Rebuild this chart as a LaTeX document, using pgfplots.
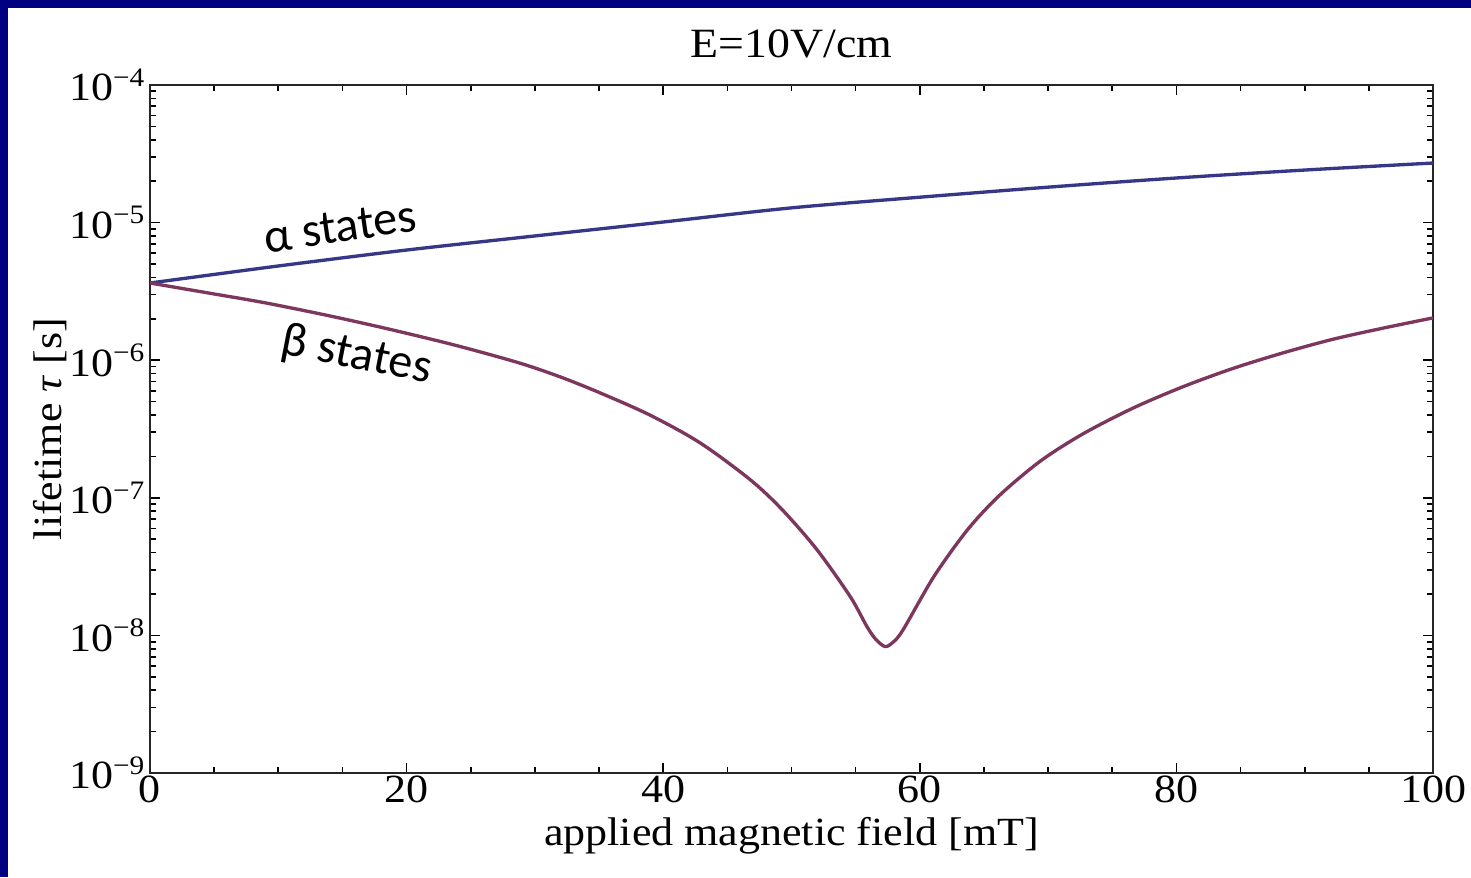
\documentclass[border=0pt]{standalone}
\usepackage{fontspec}
\setmainfont{Liberation Serif}[FakeStretch=1.1]
\newfontfamily\carlito{Carlito}
\usepackage{pgfplots}
\pgfplotsset{compat=1.18}
\definecolor{slidenavy}{RGB}{0,0,128}
\definecolor{alphablue}{RGB}{55,55,135}
\definecolor{betared}{RGB}{125,55,95}

\begin{document}
\begin{tikzpicture}[x=1pt,y=1pt]
% slide background
\fill[slidenavy] (0,0) rectangle (441.3,263.1);
\fill[white] (2.4,0) rectangle (441.3,260.7);
\begin{axis}[
  at={(45pt,31.2pt)}, anchor=south west,
  scale only axis, width=384.9pt, height=206.4pt,
  xmin=0, xmax=100,
  ymode=log, ymin=1e-9, ymax=1e-4,
  xtick={0,20,40,60,80,100}, minor x tick num=3,
  ytick={1e-9,1e-8,1e-7,1e-6,1e-5,1e-4},
  yticklabels={10\textsuperscript{−9},10\textsuperscript{−8},10\textsuperscript{−7},
               10\textsuperscript{−6},10\textsuperscript{−5},10\textsuperscript{−4}},
  /pgf/number format/assume math mode=true,
  tick align=inside,
  major tick length=3pt, minor tick length=1.8pt,
  every tick/.style={black, line width=0.5pt},
  axis line style={black!85, line width=0.6pt},
  tick label style={font=\fontsize{12}{14}\selectfont},
  xticklabel style={anchor=base, yshift=-8.7pt},
  yticklabel style={inner xsep=1pt},
  title={E=10V/cm},
  title style={at={(0.5,1)}, anchor=base, yshift=2.4pt, font=\fontsize{12.5}{15}\selectfont},
  xlabel={applied magnetic field [mT]},
  xlabel style={at={(axis description cs:0.5,0)}, anchor=base, yshift=-21.6pt,
                font=\fontsize{12}{14}\selectfont},
  ylabel={lifetime \textit{τ} [s]},
  ylabel style={at={(axis description cs:-0.078,0.5)}, anchor=center,
                font=\fontsize{12}{14}\selectfont},
]
\addplot[alphablue, line width=1pt, smooth] coordinates {
  (0,3.64e-6) (10,4.84e-6) (20,6.32e-6) (30,8.00e-6) (40,1.01e-5) (50,1.28e-5)
  (60,1.53e-5) (70,1.81e-5) (80,2.11e-5) (90,2.41e-5) (100,2.71e-5)
};
\addplot[betared, line width=1pt, smooth, tension=0.5] coordinates {
  (0,3.64e-6) (5,3.03e-6) (9,2.61e-6) (14,2.10e-6) (18.9,1.66e-6) (24,1.27e-6)
  (28.8,9.54e-7) (32,7.55e-7) (35.1,5.78e-7) (39,3.98e-7) (42.9,2.50e-7)
  (46.8,1.35e-7) (49.3,8.15e-8) (52,4.18e-8) (54.6,1.90e-8) (55.9,1.15e-8)
  (56.6,9.3e-9) (57.3,8.3e-9) (57.9,8.9e-9) (58.7,1.10e-8) (61.1,2.68e-8)
  (63.7,5.83e-8) (66.2,1.04e-7) (69.4,1.85e-7) (72.7,2.91e-7) (76.6,4.48e-7)
  (80.5,6.41e-7) (84.4,8.71e-7) (88.3,1.13e-6) (92.2,1.42e-6) (96.1,1.71e-6)
  (100,2.03e-6)
};
\node[rotate=8.4, font=\carlito\fontsize{14.5}{16}\selectfont]
  at (axis cs:14.8,9.3e-6) {α states};
\node[rotate=-11, font=\carlito\fontsize{14.5}{16}\selectfont]
  at (axis cs:16.1,1.07e-6) {β states};
\end{axis}
\pgfresetboundingbox
\path[use as bounding box] (0,0) rectangle (441.3,263.1);
\end{tikzpicture}
\end{document}
